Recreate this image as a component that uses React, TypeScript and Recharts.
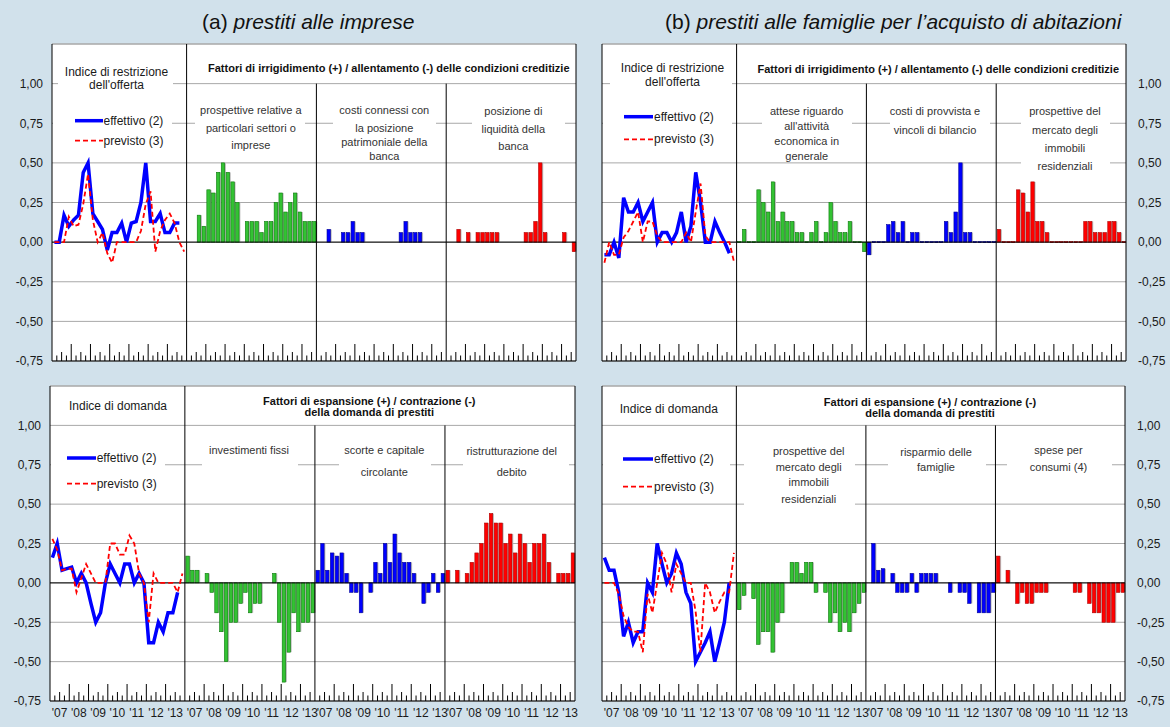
import React from 'react';
import { ComposedChart, Bar, Line, XAxis, YAxis, CartesianGrid, ReferenceLine } from 'recharts';

const FONT = '"Liberation Sans", Arial, Helvetica, sans-serif';

// 28 quarters in the index section (2007Q1-2013Q4), 27 in each factor section (2007Q1-2013Q3)
const N_LINE = 28;
const N_SEC = 27;
const N_ALL = N_LINE + 3 * N_SEC;

const yTicks = [-0.75, -0.5, -0.25, 0, 0.25, 0.5, 0.75, 1];
const yearLabels = ["'07", "'08", "'09", "'10", "'11", "'12", "'13"];

// (a) imprese - offerta
const tlEffettivo = [0, 0, 0.17, 0.1, 0.14, 0.17, 0.44, 0.5, 0.18, 0.13, 0.08, -0.05, 0.06, 0.06, 0.12, 0, 0.12, 0.13, 0.25, 0.5, 0.13, 0.13, 0.18, 0.06, 0.06, 0.12, 0.12];
const tlPrevisto = [0, 0, 0, 0.16, 0.1, 0.11, 0.24, 0.43, 0.14, 0, 0.06, -0.07, -0.13, 0, 0, 0, 0, 0, 0.07, 0.24, 0.32, -0.06, 0.07, 0.14, 0.18, 0.12, 0, -0.06];
const tlSettori = [null, null, 0.17, 0.1, 0.33, 0.31, 0.44, 0.5, 0.44, 0.38, 0.25, null, 0.13, 0.13, 0.13, 0.06, 0.13, 0.13, 0.25, 0.31, 0.19, 0.25, 0.31, 0.19, 0.13, 0.13, 0.13];
const tlPatrimoniale = [null, null, 0.08, null, null, 0.06, 0.06, 0.13, 0.06, 0.06, null, null, null, null, null, null, null, 0.06, 0.13, 0.06, 0.06, 0.06, null, null, null, null, null];
const tlLiquidita = [null, null, 0.08, null, 0.06, null, 0.06, 0.06, 0.06, 0.06, 0.06, null, null, null, null, null, 0.06, 0.06, 0.13, 0.5, 0.06, null, null, null, 0.06, null, -0.06];

// (b) famiglie - offerta
const trEffettivo = [-0.08, -0.08, 0, -0.1, 0.28, 0.19, 0.19, 0.25, 0.13, 0.19, 0.25, 0, 0.06, 0.06, 0, 0.06, 0.19, 0, 0.1, 0.44, 0.25, 0, 0, 0.13, 0.06, 0, -0.07];
const trPrevisto = [-0.13, 0, -0.08, -0.08, 0.03, 0.07, 0.13, 0.19, 0, 0.13, 0.13, 0.04, 0, 0, 0, 0, 0, 0.06, 0, 0.19, 0.37, 0.04, 0, 0, 0, 0, 0, -0.13];
const trAttivita = [0, 0.08, 0, 0, 0.33, 0.25, 0.19, 0.38, 0.13, 0.19, 0.13, 0.13, 0.06, 0.06, 0, 0.06, 0.13, 0, 0.06, 0.25, 0.13, 0.06, 0.06, 0.13, 0, 0, -0.06];
const trProvvista = [-0.08, 0, 0, 0, 0.11, 0.13, 0.06, 0.13, 0, 0.06, 0.06, 0, 0, 0, 0, 0, 0.13, 0.06, 0.19, 0.5, 0.06, 0.06, 0, 0, 0, 0, 0];
const trImmobili = [0.08, 0, 0, 0, 0.33, 0.31, 0.19, 0.38, 0.13, 0.13, 0.06, 0, 0, 0, 0, 0, 0, 0, 0.13, 0.13, 0.06, 0.06, 0.06, 0.13, 0.13, 0.06, 0];

// (a) imprese - domanda
const blEffettivo = [0.16, 0.25, 0.08, 0.09, 0.1, 0, 0.06, 0, -0.13, -0.25, -0.19, 0, 0.12, 0.06, 0, 0.12, 0.12, 0, 0.06, 0, -0.38, -0.38, -0.25, -0.31, -0.19, -0.19, -0.06];
const blPrevisto = [0.28, 0.21, 0.08, 0.09, 0.09, -0.06, 0.03, 0.12, 0.06, 0, 0, 0, 0.25, 0.25, 0.18, 0.18, 0.3, 0.25, 0.06, 0, -0.25, 0.06, 0, 0, 0, 0, -0.06, 0.06];
const blInvestimenti = [0.17, 0.08, 0.08, null, 0.06, -0.06, -0.19, -0.31, -0.5, -0.25, -0.25, -0.13, -0.06, -0.19, -0.13, -0.13, null, null, 0.06, -0.25, -0.63, -0.44, -0.19, -0.31, -0.25, -0.25, -0.19];
const blScorte = [0.08, 0.25, 0.08, 0.19, 0.17, 0.19, 0.06, -0.06, -0.06, -0.19, null, -0.06, 0.13, 0.06, 0.25, 0.13, 0.31, 0.19, 0.13, 0.13, 0.06, null, -0.13, -0.06, 0.06, -0.06, 0.06];
const blRistrutturazione = [0.08, null, 0.08, null, 0.06, 0.13, 0.19, 0.25, 0.38, 0.44, 0.38, 0.38, 0.25, 0.31, 0.19, 0.31, 0.25, 0.13, 0.25, 0.25, 0.31, 0.13, null, 0.06, 0.06, 0.06, 0.19];

// (b) famiglie - domanda
const brEffettivo = [0.16, 0.08, 0.08, -0.06, -0.34, -0.25, -0.38, -0.31, -0.31, 0, -0.06, 0.25, 0.12, 0, 0.06, 0.19, 0.12, -0.06, -0.13, -0.5, -0.44, -0.38, -0.31, -0.5, -0.38, -0.25, 0];
const brPrevisto = [0, 0, 0, -0.07, -0.21, -0.28, -0.31, -0.31, -0.44, -0.07, -0.19, 0, 0.19, 0.12, -0.06, 0.12, 0.06, 0, 0, -0.18, -0.44, 0, -0.06, -0.19, -0.12, -0.06, -0.06, 0.19];
const brImmobili = [-0.17, -0.08, null, -0.1, -0.39, -0.31, -0.31, -0.44, -0.25, -0.19, null, 0.13, 0.13, 0.06, 0.13, 0.13, -0.06, null, -0.06, -0.25, -0.19, -0.31, -0.25, -0.31, -0.19, -0.13, -0.06];
const brRisparmio = [null, 0.25, 0.08, 0.09, null, 0.06, -0.06, -0.06, -0.06, 0.06, -0.06, 0.06, 0.06, 0.06, 0.06, null, null, -0.06, null, -0.06, -0.06, -0.13, null, -0.19, -0.19, -0.19, -0.06];
const brConsumi = [0.17, null, 0.08, null, -0.13, -0.06, -0.13, -0.13, -0.06, -0.06, -0.06, null, null, null, null, null, -0.06, -0.06, null, -0.13, -0.19, -0.19, -0.25, -0.25, -0.25, -0.06, -0.06];

const SECTION_COLORS = [
  { fill: '#33c233', stroke: '#0b7a0b' },
  { fill: '#0000ff', stroke: '#00009a' },
  { fill: '#ff0000', stroke: '#b00000' },
];

type Row = { i: number; eff: number | null; prev: number | null; v: number | null; s: number };

function buildRows(eff: number[], prev: number[], secs: (number | null)[][]): Row[] {
  const rows: Row[] = [];
  for (let k = 0; k < N_LINE; k++) {
    rows.push({ i: k, eff: k < eff.length ? eff[k] : null, prev: k < prev.length ? prev[k] : null, v: null, s: -1 });
  }
  secs.forEach((arr, s) => {
    arr.forEach((val, k) => rows.push({ i: N_LINE + s * N_SEC + k, eff: null, prev: null, v: val, s }));
  });
  return rows;
}

const fmt = (v: number) => v.toFixed(2).replace('.', ',');

function BarShape(props: any) {
  const { x, y, width, height, payload } = props;
  if (!payload || payload.v == null || !isFinite(y) || !isFinite(height)) return <g />;
  const col = SECTION_COLORS[payload.s];
  const h = Math.abs(height);
  const top = h < 0.5 ? y - 0.5 : Math.min(y, y + height);
  const hh = Math.max(h, 1);
  return (
    <g>
      <rect x={x + 1.3} y={top} width={width} height={hh} fill="#bdbdbd" />
      <rect x={x} y={top} width={width} height={hh} fill={col.fill} stroke={col.stroke} strokeWidth={0.6} />
    </g>
  );
}

type PanelProps = {
  rows: Row[];
  left: number;
  top: number;
  width: number;
  height: number;
  margin: { top: number; right: number; bottom: number; left: number };
  yWidth: number;
  xHeight: number;
  side: 'left' | 'right';
  showYears: boolean;
};

function Panel({ rows, left, top, width, height, margin, yWidth, xHeight, side, showYears }: PanelProps) {
  const plotW = width - margin.left - margin.right - yWidth;
  const band = plotW / N_ALL;

  const renderTick = (p: any) => {
    const { x, y, payload } = p;
    const i = Number(payload.value);
    const q = i < N_LINE ? i : (i - N_LINE) % N_SEC;
    const last = i === N_LINE - 1 || (i >= N_LINE && q === N_SEC - 1);
    const bx = x + band / 2;
    const h = q % 4 === 3 ? 17 : q % 4 === 1 ? 9 : 5.5;
    return (
      <g>
        {!last && <line x1={bx} x2={bx} y1={y} y2={y - h} stroke="#000" strokeWidth={1} />}
        {showYears && q % 4 === 1 && (
          <text x={bx} y={y + 16} textAnchor="middle" fontSize={12} fontFamily={FONT} fill="#1a1a1a">
            {yearLabels[Math.floor(q / 4)]}
          </text>
        )}
      </g>
    );
  };

  const s2 = N_LINE + N_SEC;
  const s3 = N_LINE + 2 * N_SEC;

  return (
    <div style={{ position: 'absolute', left, top, width, height }}>
      <ComposedChart width={width} height={height} data={rows} margin={margin}>
        <CartesianGrid vertical={false} stroke="#a8a8a8" fill="#ffffff" />
        <XAxis
          dataKey="i"
          type="category"
          interval={0}
          tickSize={0}
          tickMargin={0}
          height={xHeight}
          axisLine={{ stroke: '#000' }}
          tickLine={false}
          tick={renderTick}
        />
        <YAxis
          type="number"
          orientation={side}
          width={yWidth}
          domain={[-0.75, 1.25]}
          ticks={yTicks}
          tickFormatter={fmt}
          axisLine={{ stroke: '#000' }}
          tickLine={false}
          tickSize={0}
          tickMargin={side === 'left' ? 9 : 12}
          tick={{ fontSize: 12, fill: '#1a1a1a', fontFamily: FONT }}
        />
        <ReferenceLine y={1.25} stroke="#a8a8a8" ifOverflow="visible" />
        <ReferenceLine y={0} stroke="#000" />
        <ReferenceLine
          x={side === 'left' ? N_ALL - 1 : 0}
          position={side === 'left' ? 'end' : 'start'}
          stroke="#000"
          ifOverflow="visible"
        />
        <ReferenceLine x={N_LINE} position="start" stroke="#000" />
        <ReferenceLine segment={[{ x: s2, y: 1 }, { x: s2, y: -0.75 }]} position="start" stroke="#000" />
        <ReferenceLine segment={[{ x: s3, y: 1 }, { x: s3, y: -0.75 }]} position="start" stroke="#000" />
        <Bar dataKey="v" barSize={3.4} shape={BarShape} isAnimationActive={false} />
        <Line dataKey="eff" stroke="#0000ff" strokeWidth={3.5} dot={false} isAnimationActive={false} />
        <Line dataKey="prev" stroke="#ff0000" strokeWidth={1.8} strokeDasharray="5 3" dot={false} isAnimationActive={false} />
      </ComposedChart>
    </div>
  );
}

type Box = {
  x0: number;
  x1: number;
  y0: number;
  y1: number;
  cx: number;
  ys: number[];
  lines: string[];
  size?: number;
  bold?: boolean;
  bg?: boolean;
  color?: string;
};

function TextBox({ b }: { b: Box }) {
  const size = b.size ?? 11;
  const lh = Math.round(size * 1.2);
  return (
    <div
      style={{
        position: 'absolute',
        left: b.x0,
        top: b.y0,
        width: b.x1 - b.x0,
        height: b.y1 - b.y0,
        background: b.bg === false ? 'transparent' : '#fff',
      }}
    >
      {b.lines.map((t, k) => (
        <div
          key={k}
          style={{
            position: 'absolute',
            left: b.cx - b.x0 - 300,
            width: 600,
            top: b.ys[k] - b.y0 - lh / 2,
            lineHeight: `${lh}px`,
            fontSize: size,
            textAlign: 'center',
            whiteSpace: 'nowrap',
            fontWeight: b.bold ? 'bold' : 'normal',
            color: b.color ?? '#333',
          }}
        >
          {t}
        </div>
      ))}
    </div>
  );
}

type Leg = { x0: number; x1: number; y0: number; y1: number; sx0: number; sx1: number; tx: number; ys: number[] };

function LegendBox({ l }: { l: Leg }) {
  const w = l.x1 - l.x0;
  const h = l.y1 - l.y0;
  return (
    <div style={{ position: 'absolute', left: l.x0, top: l.y0, width: w, height: h, background: '#fff' }}>
      <svg width={w} height={h} style={{ position: 'absolute', left: 0, top: 0 }}>
        <line x1={l.sx0 - l.x0} x2={l.sx1 - l.x0} y1={l.ys[0] - l.y0} y2={l.ys[0] - l.y0} stroke="#0000ff" strokeWidth={3.5} />
        <line
          x1={l.sx0 - l.x0}
          x2={l.sx1 - l.x0}
          y1={l.ys[1] - l.y0}
          y2={l.ys[1] - l.y0}
          stroke="#ff0000"
          strokeWidth={1.8}
          strokeDasharray="5 3"
        />
      </svg>
      {['effettivo (2)', 'previsto (3)'].map((t, k) => (
        <div
          key={k}
          style={{
            position: 'absolute',
            left: l.tx - l.x0,
            top: l.ys[k] - l.y0 - 7,
            lineHeight: '14px',
            fontSize: 12,
            whiteSpace: 'nowrap',
            color: '#1a1a1a',
          }}
        >
          {t}
        </div>
      ))}
    </div>
  );
}

const HEAD_OFFERTA = 'Fattori di irrigidimento (+) / allentamento (-) delle condizioni creditizie';
const HEAD_DOMANDA = ['Fattori di espansione (+) / contrazione (-)', 'della domanda di prestiti'];

const boxes: Box[] = [
  // top-left
  { x0: 58, x1: 173, y0: 64, y1: 92, cx: 116.5, ys: [71.7, 85], lines: ['Indice di restrizione', "dell'offerta"], size: 12, color: '#1a1a1a' },
  { x0: 195, x1: 305, y0: 102, y1: 153, cx: 250.8, ys: [110, 128, 145], lines: ['prospettive relative a', 'particolari settori o', 'imprese'] },
  { x0: 333, x1: 436, y0: 102, y1: 161, cx: 384.3, ys: [110, 128, 142.7, 156], lines: ['costi connessi con', 'la posizione', 'patrimoniale della', 'banca'] },
  { x0: 472, x1: 565, y0: 103, y1: 153, cx: 513.3, ys: [111, 129, 146], lines: ['posizione di', 'liquidità della', 'banca'] },
  { x0: 388.8, x1: 388.8, y0: 68, y1: 68, cx: 388.8, ys: [68], lines: [HEAD_OFFERTA], bold: true, bg: false, color: '#111' },
  // top-right
  { x0: 610, x1: 732, y0: 61, y1: 89, cx: 672.5, ys: [68.3, 81.7], lines: ['Indice di restrizione', "dell'offerta"], size: 12, color: '#1a1a1a' },
  { x0: 762, x1: 852, y0: 103, y1: 161, cx: 806.7, ys: [111, 126, 141, 156.5], lines: ['attese riguardo', "all'attività", 'economica in', 'generale'] },
  { x0: 890, x1: 990, y0: 104, y1: 137, cx: 935, ys: [111.7, 130], lines: ['costi di provvista e', 'vincoli di bilancio'] },
  { x0: 1021, x1: 1110, y0: 104, y1: 172, cx: 1065, ys: [111.7, 130, 148.3, 166], lines: ['prospettive del', 'mercato degli', 'immobili', 'residenziali'] },
  { x0: 938.3, x1: 938.3, y0: 69.3, y1: 69.3, cx: 938.3, ys: [69.3], lines: [HEAD_OFFERTA], bold: true, bg: false, color: '#111' },
  // bottom-left
  { x0: 62, x1: 174, y0: 399, y1: 414, cx: 118, ys: [406], lines: ['Indice di domanda'], size: 12, color: '#1a1a1a' },
  { x0: 202, x1: 298, y0: 443, y1: 470, cx: 249, ys: [450], lines: ['investimenti fissi'] },
  { x0: 339, x1: 431, y0: 443, y1: 479, cx: 384.3, ys: [450, 472.3], lines: ['scorte e capitale', 'circolante'] },
  { x0: 463, x1: 569, y0: 443, y1: 479, cx: 511.7, ys: [451, 472.3], lines: ['ristrutturazione del', 'debito'] },
  { x0: 369.3, x1: 369.3, y0: 401.7, y1: 401.7, cx: 369.3, ys: [401.7, 412.3], lines: HEAD_DOMANDA, bold: true, bg: false, color: '#111' },
  // bottom-right
  { x0: 614, x1: 724, y0: 402, y1: 416, cx: 668.8, ys: [409.3], lines: ['Indice di domanda'], size: 12, color: '#1a1a1a' },
  { x0: 744, x1: 855, y0: 444, y1: 506, cx: 808.7, ys: [451.3, 467.3, 482.3, 499], lines: ['prospettive del', 'mercato degli', 'immobili', 'residenziali'] },
  { x0: 888, x1: 986, y0: 445, y1: 474, cx: 936, ys: [452.3, 467.3], lines: ['risparmio delle', 'famiglie'] },
  { x0: 1007, x1: 1112, y0: 443, y1: 474, cx: 1058.5, ys: [450.7, 467.3], lines: ['spese per', 'consumi (4)'] },
  { x0: 930, x1: 930, y0: 402.3, y1: 402.3, cx: 930, ys: [402.3, 413.3], lines: HEAD_DOMANDA, bold: true, bg: false, color: '#111' },
];

const legends: Leg[] = [
  { x0: 53, x1: 172, y0: 111, y1: 150, sx0: 75, sx1: 103, tx: 103.5, ys: [120.7, 140.7] },
  { x0: 603, x1: 732, y0: 107, y1: 148, sx0: 624, sx1: 653, tx: 654, ys: [116.7, 139.3] },
  { x0: 51, x1: 165, y0: 449, y1: 492, sx0: 67, sx1: 96, tx: 96.7, ys: [458, 483.7] },
  { x0: 603, x1: 730, y0: 450, y1: 494, sx0: 623, sx1: 653, tx: 654, ys: [459, 486.7] },
];

export default function App() {
  const tlRows = buildRows(tlEffettivo, tlPrevisto, [tlSettori, tlPatrimoniale, tlLiquidita]);
  const trRows = buildRows(trEffettivo, trPrevisto, [trAttivita, trProvvista, trImmobili]);
  const blRows = buildRows(blEffettivo, blPrevisto, [blInvestimenti, blScorte, blRistrutturazione]);
  const brRows = buildRows(brEffettivo, brPrevisto, [brImmobili, brRisparmio, brConsumi]);

  return (
    <div
      style={{
        position: 'absolute',
        left: 0,
        top: 0,
        width: 1170,
        height: 727,
        background: '#d1e1eb',
        fontFamily: FONT,
        overflow: 'hidden',
      }}
    >
      <div style={{ position: 'absolute', left: 202, top: 10, fontSize: 21, lineHeight: '24px', whiteSpace: 'nowrap', color: '#111' }}>
        (a) <i>prestiti alle imprese</i>
      </div>
      <div style={{ position: 'absolute', left: 665, top: 10, fontSize: 21, lineHeight: '24px', whiteSpace: 'nowrap', color: '#111' }}>
        (b) <i>prestiti alle famiglie per l’acquisto di abitazioni</i>
      </div>

      <Panel rows={tlRows} left={0} top={30} width={590} height={360} margin={{ top: 14, right: 14, bottom: 4, left: 0 }} yWidth={52} xHeight={25} side="left" showYears={false} />
      <Panel rows={trRows} left={590} top={30} width={580} height={360} margin={{ top: 14, right: 0, bottom: 4, left: 12 }} yWidth={44} xHeight={25} side="right" showYears={false} />
      <Panel rows={blRows} left={0} top={372} width={590} height={355} margin={{ top: 14, right: 15, bottom: 4, left: 0 }} yWidth={50} xHeight={22} side="left" showYears={true} />
      <Panel rows={brRows} left={590} top={372} width={580} height={355} margin={{ top: 14, right: 0, bottom: 4, left: 12 }} yWidth={45} xHeight={22} side="right" showYears={true} />

      {boxes.map((b, k) => (
        <TextBox key={k} b={b} />
      ))}
      {legends.map((l, k) => (
        <LegendBox key={k} l={l} />
      ))}
    </div>
  );
}
